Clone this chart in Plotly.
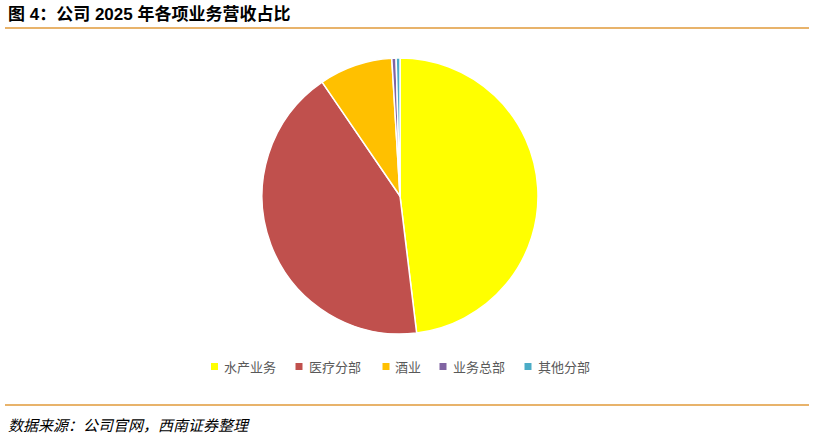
import plotly.graph_objects as go

labels = ["水产业务", "医疗分部", "酒业", "业务总部", "其他分部"]
values = [48.1, 42.4, 8.6, 0.5, 0.45]
colors = ["#FFFF00", "#C0504D", "#FFC000", "#8064A2", "#4BACC6"]

W, H = 816, 437
cx, cy, r = 400, 196, 138

fig = go.Figure(go.Pie(
    labels=labels, values=values, sort=False, direction="clockwise", rotation=0,
    marker=dict(colors=colors, line=dict(color="white", width=1.5)),
    textinfo="none", hoverinfo="label+percent", showlegend=False,
    domain=dict(x=[(cx - r) / W, (cx + r) / W], y=[(H - cy - r) / H, (H - cy + r) / H]),
))

def px(x):
    return x / W

def py(y):
    return (H - y) / H

shapes = [
    dict(type="line", xref="paper", yref="paper", x0=px(5), x1=px(809),
         y0=py(28), y1=py(28), line=dict(color="#E09A3A", width=1.5)),
    dict(type="line", xref="paper", yref="paper", x0=px(5), x1=px(809),
         y0=py(405), y1=py(405), line=dict(color="#E09A3A", width=1.5)),
]
annotations = [
    dict(text="<b>图 4：公司 2025 年各项业务营收占比</b>", xref="paper", yref="paper",
         x=px(6), y=py(14), xanchor="left", yanchor="middle", showarrow=False,
         font=dict(size=17, color="black", family="Liberation Sans, Noto Sans CJK SC")),
    dict(text="<i>数据来源：公司官网，西南证券整理</i>", xref="paper", yref="paper",
         x=px(6), y=py(424), xanchor="left", yanchor="middle", showarrow=False,
         font=dict(size=15, color="black", family="Noto Sans CJK SC")),
]

# custom legend
marker_x = [214.5, 299, 386, 443, 528]
text_x = [222, 307, 393, 451, 536]
ly = 366.5
for lab, col, mx, tx in zip(labels, colors, marker_x, text_x):
    shapes.append(dict(type="rect", xref="paper", yref="paper",
                       x0=px(mx - 3.5), x1=px(mx + 3.5), y0=py(ly + 3.5), y1=py(ly - 3.5),
                       fillcolor=col, line=dict(width=0)))
    annotations.append(dict(text=lab, xref="paper", yref="paper", x=px(tx), y=py(ly),
                            xanchor="left", yanchor="middle", showarrow=False,
                            font=dict(size=13, color="#595959", family="Noto Sans CJK SC")))

fig.update_layout(
    width=W, height=H, margin=dict(l=0, r=0, t=0, b=0),
    paper_bgcolor="white", plot_bgcolor="white",
    font=dict(family="Liberation Sans, Noto Sans CJK SC", color="#595959"),
    shapes=shapes, annotations=annotations,
)

fig.write_html("out.html", config={"displayModeBar": False},
               post_script="document.body.style.margin='0';document.body.style.overflow='hidden';")
